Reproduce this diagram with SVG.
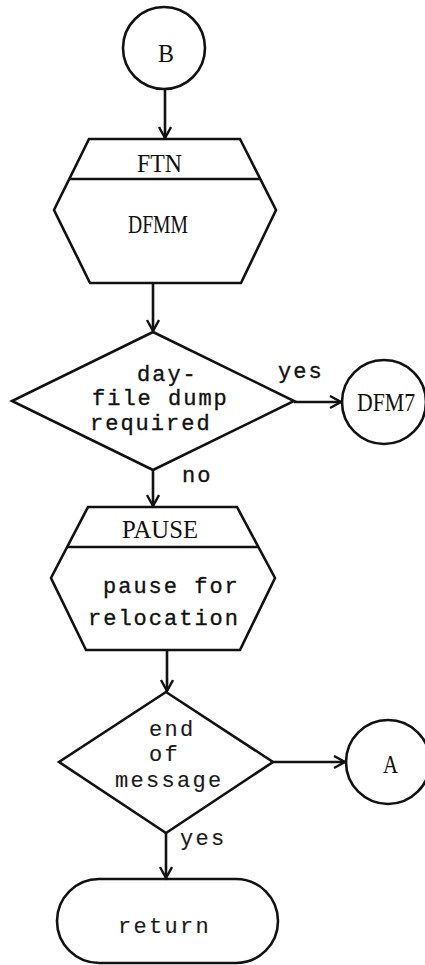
<svg xmlns="http://www.w3.org/2000/svg" width="425" height="965" viewBox="0 0 425 965">
  <style>
    .shape { fill: none; stroke: #111; stroke-width: 2.6; stroke-linejoin: miter; }
    .edge { fill: none; stroke: #111; stroke-width: 2.6; }
    .caps { font-family: "Liberation Serif", "Times New Roman", serif; font-size: 25px; fill: #111; }
    .mono { font-family: "Liberation Mono", "Courier New", monospace; font-size: 22px; fill: #111; stroke: #111; stroke-width: 0.35px; letter-spacing: 2px; }
    .gothic { font-family: "Liberation Mono", "Courier New", monospace; font-size: 22px; fill: #1a1a1a; stroke: #1a1a1a; stroke-width: 0.15px; letter-spacing: 2.3px; }
  </style>
  <defs>
    <marker id="arrow" markerUnits="userSpaceOnUse" markerWidth="16" markerHeight="16" refX="12" refY="7" orient="auto">
      <path d="M1,1 L12,7 L1,13" fill="none" stroke="#111" stroke-width="2.4"/>
    </marker>
  </defs>
  <rect width="425" height="965" fill="#ffffff"/>

  <g id="connectors">
    <line class="edge" x1="165" y1="89" x2="165" y2="138" marker-end="url(#arrow)"/>
    <line class="edge" x1="153" y1="283" x2="153" y2="331" marker-end="url(#arrow)"/>
    <line class="edge" x1="294" y1="402" x2="341" y2="402" marker-end="url(#arrow)"/>
    <line class="edge" x1="153" y1="470" x2="153" y2="506" marker-end="url(#arrow)"/>
    <line class="edge" x1="167" y1="650" x2="167" y2="691" marker-end="url(#arrow)"/>
    <line class="edge" x1="273" y1="762" x2="345" y2="762" marker-end="url(#arrow)"/>
    <line class="edge" x1="166" y1="833" x2="166" y2="878" marker-end="url(#arrow)"/>
  </g>

  <g id="connector-B">
    <circle class="shape" cx="164" cy="48" r="41"/>
    <text class="caps" x="158" y="62" textLength="16" lengthAdjust="spacingAndGlyphs">B</text>
  </g>

  <g id="call-FTN-DFMM">
    <polygon class="shape" points="89,139 240,139 276,210 241,283 90,283 54,210"/>
    <line class="shape" x1="69" y1="179" x2="260" y2="179"/>
    <text class="caps" x="137" y="172" textLength="45" lengthAdjust="spacingAndGlyphs">FTN</text>
    <text class="caps" x="128" y="233" textLength="60" lengthAdjust="spacingAndGlyphs">DFMM</text>
  </g>

  <g id="decision-dayfile">
    <polygon class="shape" points="153,332 294,401 153,470 12,401"/>
    <text class="mono" x="137" y="381">day-</text>
    <text class="mono" x="92" y="405">file dump</text>
    <text class="mono" x="90" y="430">required</text>
  </g>

  <g id="connector-DFM7">
    <circle class="shape" cx="384" cy="402" r="42"/>
    <text class="caps" x="357" y="411" textLength="58" lengthAdjust="spacingAndGlyphs">DFM7</text>
  </g>

  <g id="call-PAUSE">
    <polygon class="shape" points="88,507 237,507 275,578 240,650 86,650 51,578"/>
    <line class="shape" x1="67" y1="547" x2="258" y2="547"/>
    <text class="caps" x="122" y="538" textLength="76" lengthAdjust="spacingAndGlyphs">PAUSE</text>
    <text class="mono" x="103" y="593">pause for</text>
    <text class="mono" x="88" y="625">relocation</text>
  </g>

  <g id="decision-end">
    <polygon class="shape" points="166,692 273,762 166,833 59,762"/>
    <text class="gothic" x="149" y="736">end</text>
    <text class="gothic" x="149" y="761">of</text>
    <text class="gothic" x="115" y="787">message</text>
  </g>

  <g id="connector-A">
    <circle class="shape" cx="388" cy="762" r="42"/>
    <text class="caps" x="383" y="773" textLength="15" lengthAdjust="spacingAndGlyphs">A</text>
  </g>

  <g id="terminal-return">
    <rect class="shape" x="57" y="879" width="221" height="84" rx="42" ry="42"/>
    <text class="gothic" x="118" y="933">return</text>
  </g>

  <g id="branch-labels">
    <text class="mono" x="278" y="378">yes</text>
    <text class="mono" x="182" y="482">no</text>
    <text class="gothic" x="180" y="845">yes</text>
  </g>
</svg>
